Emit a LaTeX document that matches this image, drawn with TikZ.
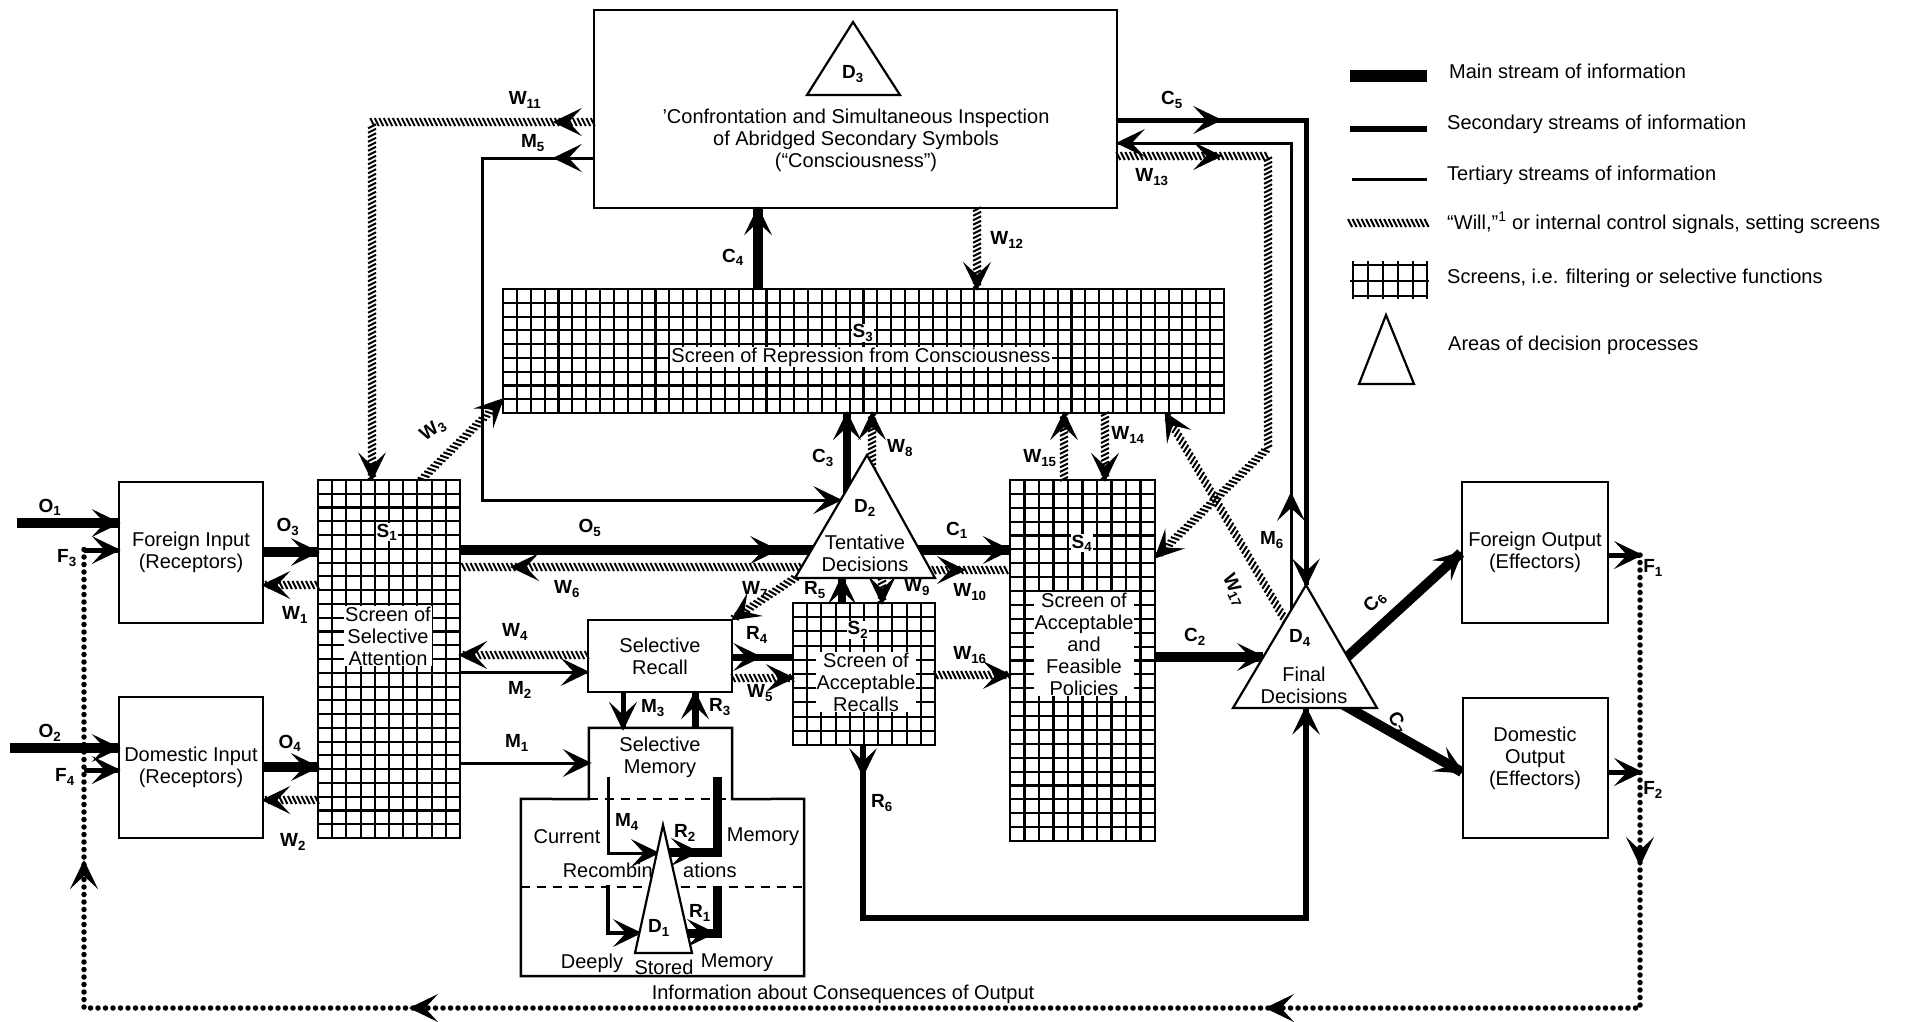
\documentclass[tikz,border=0pt]{standalone}
\usepackage{fontspec}
\setmainfont{Liberation Sans}
\usetikzlibrary{decorations.markings}
\newcommand\mytxt{\fontsize{20}{22}\selectfont}
\newcommand\mylbl{\fontsize{19}{20}\selectfont\bfseries}
\newcommand\myhead{\fill (3pt,0pt) -- (-26pt,14pt) -- (-13pt,0pt) -- (-26pt,-14pt) -- cycle;}
\newcommand\gridbox[5]{%
  \node[draw,line width=2.2pt,inner sep=0pt,minimum width=#4-#2,minimum height=#5-#3] (#1) at ({(#2+#4)/2},{(#3+#5)/2}) {};
  \pgfmathtruncatemacro\ncol{round((#4-#2)/14)-1}%
  \pgfmathtruncatemacro\nrow{round((#5-#3)/14)-1}%
  \pgfmathsetmacro\ddx{(#4-#2)/(\ncol+1)}%
  \pgfmathsetmacro\ddy{(#5-#3)/(\nrow+1)}%
  \foreach \i in {1,...,\ncol}{\draw[line width=2.1pt] ({#2+\i*\ddx},#3) -- ({#2+\i*\ddx},#5);}%
  \foreach \j in {1,...,\nrow}{\draw[line width=2.1pt] (#2,{#3+\j*\ddy}) -- (#4,{#3+\j*\ddy});}%
}
\tikzset{
  mainl/.style={line width=10pt},
  secl/.style={line width=5pt},
  terl/.style={line width=3pt},
  will/.style={postaction={decorate,decoration={markings,
     mark=between positions 0 and 1 step 4.5pt with {\draw[line width=2pt,line cap=butt] (-2pt,4pt) -- (2pt,-4pt);}}}},
  ahead/.style={postaction={decorate,decoration={markings,mark=at position #1 with {\myhead}}}},
  aend/.style={ahead=0.999},
  fb/.style={line width=5.5pt,dash pattern=on 0pt off 7.5pt,line cap=round},
  box/.style={draw,line width=2.5pt,inner sep=0pt,fill=white,align=center,font=\mytxt},
  lbl/.style={font=\mylbl,inner sep=1pt},
  txt/.style={font=\mytxt,align=center,inner sep=1pt},
  wtxt/.style={txt,fill=white},
  tri/.style={draw,line width=2.2pt,fill=white,line join=miter},
}
\begin{document}
\begin{tikzpicture}[x=1pt,y=-1pt]
\fill[white] (0,0) rectangle (1911,1021);
\useasboundingbox (0,0) rectangle (1911,1021);

% ---------- screens
\gridbox{S1}{318}{480}{460}{838}
\gridbox{S3}{503}{289}{1224}{413}
\gridbox{S2}{793}{603}{935}{745}
\gridbox{S4}{1010}{480}{1155}{841}

% ---------- boxes
\node[box,minimum width=144,minimum height=141] (FI) at (191,552.5) {Foreign Input\\(Receptors)};
\node[box,minimum width=144,minimum height=141] (DI) at (191,767.5) {Domestic Input\\(Receptors)};
\node[box,minimum width=146,minimum height=141] (FO) at (1535,552.5) {Foreign Output\\(Effectors)};
\node[box,minimum width=145,minimum height=140] (DO) at (1535.5,768) {};
\node[box,minimum width=523,minimum height=198] (D3box) at (855.5,109) {};
\node[box,minimum width=144,minimum height=72] (Recall) at (660,656) {Selective\\Recall};

% memory complex
\node[inner sep=0pt,minimum width=143,minimum height=71] (SM) at (660.5,763.5) {};
\node[inner sep=0pt,minimum width=283,minimum height=177] (CM) at (662.5,887.5) {};
\draw[line width=2.5pt] (SM.north west) -- (SM.north east) -- (SM.south east) -- (CM.north east)
  -- (CM.south east) -- (CM.south west) -- (CM.north west) -- (SM.south west) -- cycle;
\draw[line width=2pt,dash pattern=on 9pt off 7pt] (SM.south west) -- (SM.south east);
\draw[line width=2pt,dash pattern=on 9pt off 7pt] (CM.west |- 0,887) -- (CM.east |- 0,887);

% triangle vertices
\coordinate (D3a) at (853,22);  \coordinate (D3l) at (807,95);  \coordinate (D3r) at (900,95);
\coordinate (D2a) at (867,455); \coordinate (D2l) at (795,578); \coordinate (D2r) at (935,578);
\coordinate (D4a) at (1306,585); \coordinate (D4l) at (1233,708); \coordinate (D4r) at (1377,708);
\coordinate (D1a) at (663,825); \coordinate (D1l) at (635,953); \coordinate (D1r) at (692,953);

% ---------- feedback loop
\coordinate (o1s) at (17,523);
\coordinate (o2s) at (10,748);
\coordinate (fbTL) at (84,548);
\coordinate (fbBL) at (84,1008);
\coordinate (fbBR) at (1640,1008);
\coordinate (fbTR) at (1640,555);
\draw[mainl,aend] (o1s) -- (FI.west |- o1s);
\draw[mainl,aend] (o2s) -- (DI.west |- o2s);
\draw[fb] (fbTR) -- (fbBR) -- (fbBL) -- (fbTL);
\path[ahead=308pt,ahead=825pt,ahead=1681pt,ahead=2154pt] (fbTR) -- (fbBR) -- (fbBL) -- (fbTL);
\draw[secl,aend] (fbTL |- 0,550) -- (FI.west |- 0,550);
\draw[secl,aend] (fbTL |- 0,770) -- (DI.west |- 0,770);
\draw[secl,aend] (FO.east |- fbTR) -- (fbTR);
\draw[secl,aend] (DO.east |- 0,772) -- (fbTR |- 0,772);

% ---------- inputs to S1
\draw[mainl,aend] (FI.east |- 0,552) -- (S1.west |- 0,552);
\path[will,aend] (S1.west |- 0,585) -- (FI.east |- 0,585);
\draw[mainl,aend] (DI.east |- 0,767) -- (S1.west |- 0,767);
\path[will,aend] (S1.west |- 0,800) -- (DI.east |- 0,800);

% ---------- S1 <-> D2
\coordinate (o5e) at (830,550);
\draw[mainl,ahead=315pt] (S1.east |- o5e) -- (o5e);
\coordinate (w6s) at (810,567);
\path[will,ahead=297pt] (w6s) -- (S1.east |- w6s);

% ---------- D3 outputs on left
\coordinate (m5c) at (482,158); \coordinate (m5d) at (482,500); \coordinate (m5e) at (840,500);
\draw[terl,ahead=37pt,aend] (D3box.west |- m5c) -- (m5c) -- (m5d) -- (m5e);
\coordinate (w11c) at (372,122);
\path[will,ahead=37pt,aend] (D3box.west |- w11c) -- (w11c) -- (w11c |- S1.north);
\coordinate (w3s) at (422,479);
\path[will,aend] (w3s) -- (S3.west |- 0,400);

% ---------- S3 <-> D3
\draw[mainl,aend] (758,0 |- S3.north) -- (758,0 |- D3box.south);
\path[will,aend] (977,0 |- D3box.south) -- (977,0 |- S3.north);

% ---------- right loops
\coordinate (c5c) at (1306,120);
\draw[secl,ahead=101pt,aend] (D3box.east |- c5c) -- (c5c) -- (D4a);
\coordinate (m6s) at (1291,612); \coordinate (m6c) at (1291,143);
\draw[terl,ahead=117pt,aend] (m6s) -- (m6c) -- (D3box.east |- m6c);
\coordinate (w13c) at (1268,156); \coordinate (w13d) at (1268,448);
\path[will,ahead=101pt,aend] (D3box.east |- w13c) -- (w13c) -- (w13d) -- (S4.east |- 0,557);
\coordinate (w17s) at (1285,620);
\path[will,aend] (w17s) -- (1166,0 |- S3.south);
\path[will,aend] (1064,0 |- S4.north) -- (1064,0 |- S3.south);
\path[will,aend] (1105,0 |- S3.south) -- (1105,0 |- S4.north);

% ---------- D2 area
\coordinate (c1s) at (905,550);
\draw[mainl,aend] (c1s) -- (S4.west |- c1s);
\coordinate (w10s) at (925,570);
\path[will,ahead=38pt] (w10s) -- (S4.west |- w10s);
\coordinate (c3s) at (847,500);
\draw[line width=8pt,aend] (c3s) -- (c3s |- S3.south);
\coordinate (w8s) at (872,470);
\path[will,aend] (w8s) -- (w8s |- S3.south);
\path[will,aend] (D2l) -- (Recall.north east);
\draw[line width=8pt,aend] (842,0 |- S2.north) -- (842,0 |- D2l);
\path[will,aend] (882,0 |- D2l) -- (882,0 |- S2.north);

% ---------- recall area
\draw[line width=7pt,ahead=26pt] (Recall.east |- 0,657) -- (S2.west |- 0,657);
\path[will,aend] (Recall.east |- 0,678) -- (S2.west |- 0,678);
\path[will,aend] (Recall.west |- 0,655) -- (S1.east |- 0,655);
\draw[terl,aend] (S1.east |- 0,672) -- (Recall.west |- 0,672);
\draw[terl,aend] (S1.east |- 0,763) -- (SM.west |- 0,763);
\draw[secl,aend] (623,0 |- Recall.south) -- (623,0 |- SM.north);
\draw[line width=7pt,aend] (695,0 |- SM.north) -- (695,0 |- Recall.south);
\path[will,aend] (S2.east |- 0,675) -- (S4.west |- 0,675);

% ---------- D4
\coordinate (c2e) at (1263,657);
\draw[mainl,aend] (S4.east |- c2e) -- (c2e);
\coordinate (c6s) at (1335,668);
\draw[mainl,aend] (c6s) -- (FO.west |- 0,553);
\coordinate (c7s) at (1335,700);
\draw[mainl,aend] (c7s) -- (DO.west |- 0,772);
\coordinate (r6a) at (863,918); \coordinate (r6b) at (1306,918);
\draw[line width=6pt,ahead=28pt,aend] (863,0 |- S2.south) -- (r6a) -- (r6b) -- (r6b |- D4l);

% ---------- memory inner lines
\coordinate (m4a) at (608,777); \coordinate (m4b) at (608,853); \coordinate (m4e) at (657,853);
\draw[terl,aend] (m4a) -- (m4b) -- (m4e);
\coordinate (lla) at (608,885); \coordinate (llb) at (608,933); \coordinate (lle) at (639,933);
\draw[line width=4pt,aend] (lla) -- (llb) -- (lle);
\coordinate (r2s) at (668,852); \coordinate (r2c) at (717,852); \coordinate (r2e) at (717,777);
\draw[line width=9pt,ahead=29pt] (r2s) -- (r2c) -- (r2e);
\coordinate (r1s) at (684,933); \coordinate (r1c) at (717,933); \coordinate (r1e) at (717,887);
\draw[line width=9pt,ahead=29pt] (r1s) -- (r1c) -- (r1e);

% ---------- triangles
\draw[tri] (D3a) -- (D3l) -- (D3r) -- cycle;
\draw[tri] (D2a) -- (D2l) -- (D2r) -- cycle;
\draw[tri] (D4a) -- (D4l) -- (D4r) -- cycle;
\draw[tri] (D1a) -- (D1l) -- (D1r) -- cycle;

% ---------- texts
\node[lbl] (D3t) at (853,74) {D\textsubscript{3}};
\node[txt] (D3txt) at (856,140) {'Confrontation and Simultaneous Inspection\\of Abridged Secondary Symbols\\(``Consciousness'')};
\node[lbl] (D2t) at (865,508) {D\textsubscript{2}};
\node[txt] (D2txt) at (865,553) {Tentative\\Decisions};
\node[lbl] (D4t) at (1300,638) {D\textsubscript{4}};
\node[txt] (D4txt) at (1304,685) {Final\\Decisions};
\node[lbl] (D1t) at (659,928) {D\textsubscript{1}};
\node[txt] (DOt) at (1535,758) {Domestic\\Output\\(Effectors)};
\node[txt] (SMt) at (660,757) {Selective\\Memory};
\node[txt] (cur) at (567,837) {Current};
\node[txt] (mem1) at (763,837) {Memory};
\node[txt,anchor=east] (recA) at (654,870) {Recombin};
\node[txt,anchor=west] (recB) at (682,870) {ations};
\node[txt] (deep) at (592,963) {Deeply};
\node[txt] (stor) at (664,967) {Stored};
\node[txt] (mem2) at (737,963) {Memory};

\node[lbl,fill=white] (S1l) at (387,532) {S\textsubscript{1}};
\node[wtxt] (S1t) at (388,636) {Screen of\\Selective\\Attention};
\node[lbl,fill=white] (S3l) at (863,333) {S\textsubscript{3}};
\node[wtxt] (S3t) at (861,357) {Screen of Repression from Consciousness};
\node[lbl,fill=white] (S2l) at (858,630) {S\textsubscript{2}};
\node[wtxt] (S2t) at (866,682) {Screen of\\Acceptable\\Recalls};
\node[lbl,fill=white] (S4l) at (1082,543) {S\textsubscript{4}};
\node[wtxt] (S4t) at (1084,644) {Screen of\\Acceptable\\and\\Feasible\\Policies};

\node[txt] (info) at (843,994) {Information about Consequences of Output};

% ---------- labels
\node[lbl] (lO1) at (50,507) {O\textsubscript{1}};
\node[lbl] (lF3) at (67,558) {F\textsubscript{3}};
\node[lbl] (lO2) at (50,733) {O\textsubscript{2}};
\node[lbl] (lF4) at (65,777) {F\textsubscript{4}};
\node[lbl] (lO3) at (288,527) {O\textsubscript{3}};
\node[lbl] (lW1) at (295,615) {W\textsubscript{1}};
\node[lbl] (lO4) at (290,743) {O\textsubscript{4}};
\node[lbl] (lW2) at (293,842) {W\textsubscript{2}};
\node[lbl] (lO5) at (590,528) {O\textsubscript{5}};
\node[lbl] (lW6) at (567,589) {W\textsubscript{6}};
\node[lbl] (lM5) at (533,143) {M\textsubscript{5}};
\node[lbl] (lW11) at (525,100) {W\textsubscript{11}};
\node[lbl,rotate=35] (lW3) at (433,430) {W\textsubscript{3}};
\node[lbl] (lC4) at (733,257) {C\textsubscript{4}};
\node[lbl] (lW12) at (1007,240) {W\textsubscript{12}};
\node[lbl] (lC5) at (1172,100) {C\textsubscript{5}};
\node[lbl] (lM6) at (1272,540) {M\textsubscript{6}};
\node[lbl] (lW13) at (1152,177) {W\textsubscript{13}};
\node[lbl,rotate=-65] (lW17) at (1234,590) {W\textsubscript{17}};
\node[lbl] (lW15) at (1040,458) {W\textsubscript{15}};
\node[lbl] (lW14) at (1128,435) {W\textsubscript{14}};
\node[lbl] (lC1) at (957,530) {C\textsubscript{1}};
\node[lbl] (lW10) at (970,592) {W\textsubscript{10}};
\node[lbl] (lC3) at (823,458) {C\textsubscript{3}};
\node[lbl] (lW8) at (900,448) {W\textsubscript{8}};
\node[lbl] (lW7) at (755,590) {W\textsubscript{7}};
\node[lbl] (lR5) at (815,590) {R\textsubscript{5}};
\node[lbl] (lW9) at (917,587) {W\textsubscript{9}};
\node[lbl] (lR4) at (757,635) {R\textsubscript{4}};
\node[lbl] (lW5) at (760,693) {W\textsubscript{5}};
\node[lbl] (lW4) at (515,632) {W\textsubscript{4}};
\node[lbl] (lM2) at (520,690) {M\textsubscript{2}};
\node[lbl] (lM1) at (517,743) {M\textsubscript{1}};
\node[lbl] (lM3) at (653,708) {M\textsubscript{3}};
\node[lbl] (lR3) at (720,707) {R\textsubscript{3}};
\node[lbl] (lW16) at (970,655) {W\textsubscript{16}};
\node[lbl] (lC2) at (1195,637) {C\textsubscript{2}};
\node[lbl,rotate=47] (lC6) at (1375,602) {C\textsubscript{6}};
\node[lbl,rotate=-60] (lC7) at (1397,723) {C\textsubscript{7}};
\node[lbl] (lR6) at (882,803) {R\textsubscript{6}};
\node[lbl] (lF1) at (1653,568) {F\textsubscript{1}};
\node[lbl] (lF2) at (1653,790) {F\textsubscript{2}};
\node[lbl] (lM4) at (627,822) {M\textsubscript{4}};
\node[lbl] (lR2) at (685,833) {R\textsubscript{2}};
\node[lbl] (lR1) at (700,913) {R\textsubscript{1}};

% ---------- legend
\draw[line width=12pt] (1350,76) -- (1427,76);
\node[txt,anchor=west] (lg1) at (1448,71) {Main stream of information};
\draw[line width=6pt] (1350,129) -- (1427,129);
\node[txt,anchor=west] (lg2) at (1446,124) {Secondary streams of information};
\draw[line width=3pt] (1352,179) -- (1427,179);
\node[txt,anchor=west] (lg3) at (1446,175) {Tertiary streams of information};
\path[will] (1350,223) -- (1427,223);
\node[txt,anchor=west] (lg4) at (1446,223) {``Will,''\textsuperscript{1} or internal control signals, setting screens};
\draw[line width=2pt] (1352,265) -- (1427,265) (1350,281) -- (1429,281) (1352,296) -- (1427,296);
\foreach \xx in {1353,1368,1383,1398,1413,1427} {\draw[line width=2pt] (\xx,261) -- (\xx,299);}
\node[txt,anchor=west] (lg5) at (1446,278) {Screens, i.e. filtering or selective functions};
\draw[tri] (1386,315) -- (1359,384) -- (1414,384) -- cycle;
\node[txt,anchor=west] (lg6) at (1447,345) {Areas of decision processes};
\end{tikzpicture}
\end{document}
